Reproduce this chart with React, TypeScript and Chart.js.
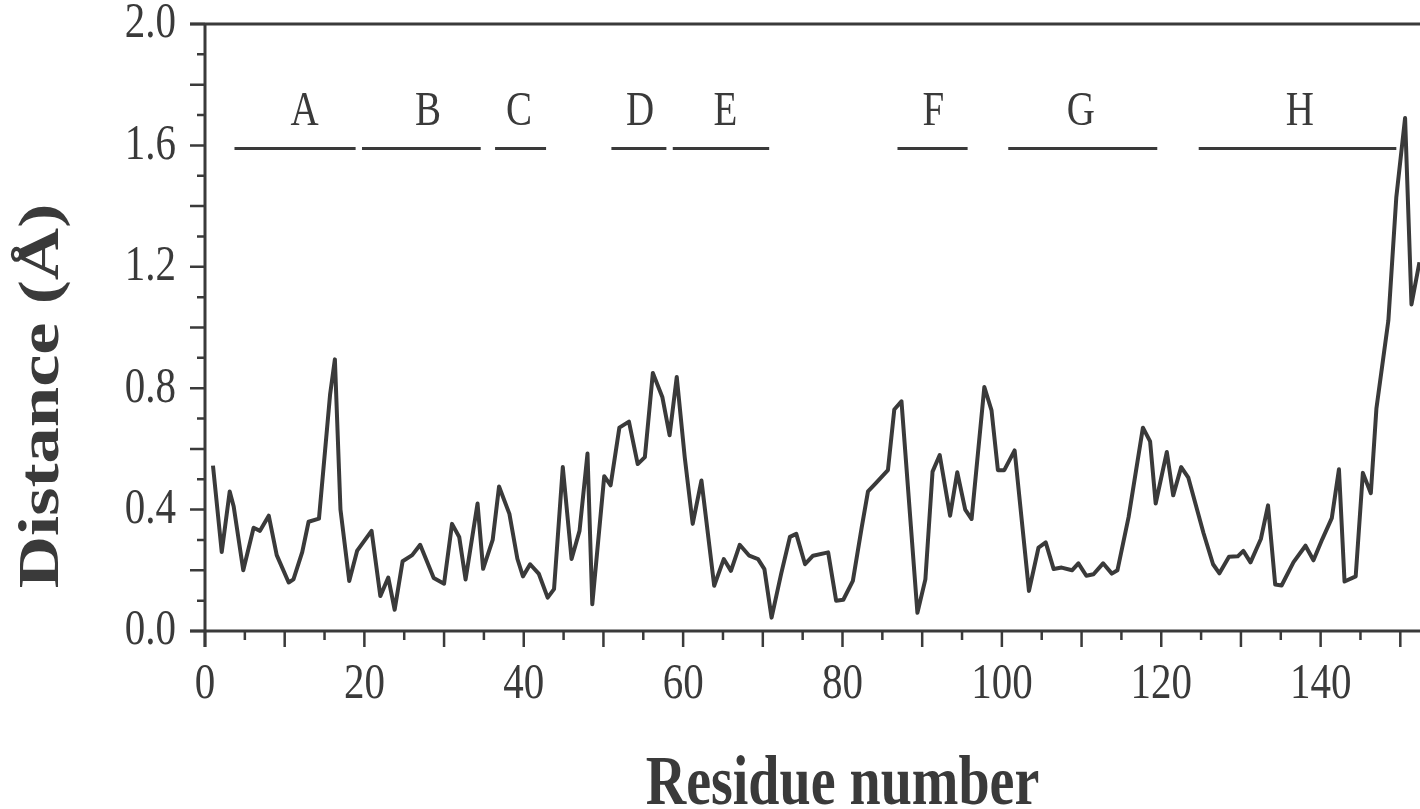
import React, { useEffect, useRef } from 'react';
import { Chart, registerables } from 'chart.js';

Chart.register(...registerables);

// Residue positions and distances
const residues = [
  1.0, 2.1, 3.1, 3.6, 4.8, 6.1, 6.9, 8.0, 9.0, 10.5, 11.1, 12.2, 13.0, 14.3, 15.7, 16.3, 17.0, 18.1, 19.1, 20.9,
  22.0, 23.0, 23.8, 24.8, 26.0, 27.0, 28.7, 30.0, 31.0, 31.9, 32.7, 34.2, 34.9, 36.1, 36.9, 38.2, 39.2, 39.9, 40.8, 41.9,
  43.0, 43.8, 44.9, 46.0, 47.0, 48.0, 48.6, 50.1, 50.9, 52.0, 53.2, 54.3, 55.2, 56.2, 57.4, 58.3, 59.2, 60.2, 61.2, 62.3,
  63.9, 65.1, 66.0, 67.1, 68.3, 69.4, 70.2, 71.1, 72.3, 73.4, 74.2, 75.3, 76.3, 78.2, 79.2, 80.1, 81.3, 82.4, 83.2, 84.1,
  85.7, 86.5, 87.4, 89.4, 90.4, 91.3, 92.2, 93.5, 94.4, 95.4, 96.2, 97.8, 98.7, 99.5, 100.3, 101.6, 103.4, 104.6, 105.5, 106.5,
  107.5, 108.8, 109.6, 110.6, 111.5, 112.7, 113.8, 114.5, 115.9, 117.7, 118.6, 119.3, 120.7, 121.5, 122.5, 123.4, 125.3, 126.5, 127.3, 128.5,
  129.6, 130.3, 131.2, 132.5, 133.4, 134.3, 135.1, 136.6, 138.1, 139.1, 140.2, 141.4, 142.3, 143.0, 144.4, 145.3, 146.3, 147.0, 148.5, 149.5,
  150.6, 151.4, 152.4,
];
const distances = [
  0.545, 0.26, 0.46, 0.41, 0.2, 0.34, 0.33, 0.38, 0.25, 0.16, 0.17, 0.26, 0.36, 0.37, 0.78, 0.895, 0.4, 0.165, 0.265, 0.33,
  0.115, 0.176, 0.07, 0.23, 0.25, 0.284, 0.175, 0.156, 0.353, 0.31, 0.17, 0.42, 0.205, 0.3, 0.476, 0.386, 0.238, 0.18, 0.22, 0.188,
  0.11, 0.138, 0.54, 0.237, 0.33, 0.585, 0.088, 0.51, 0.48, 0.67, 0.69, 0.55, 0.573, 0.85, 0.77, 0.645, 0.837, 0.573, 0.353, 0.496,
  0.149, 0.237, 0.198, 0.284, 0.248, 0.237, 0.204, 0.044, 0.188, 0.31, 0.32, 0.22, 0.248, 0.259, 0.1, 0.103, 0.165, 0.34, 0.46, 0.485,
  0.53, 0.73, 0.757, 0.06, 0.17, 0.525, 0.58, 0.38, 0.523, 0.4, 0.369, 0.804, 0.727, 0.53, 0.53, 0.595, 0.132, 0.275, 0.292, 0.204,
  0.209, 0.2, 0.223, 0.182, 0.187, 0.223, 0.189, 0.2, 0.375, 0.67, 0.625, 0.42, 0.59, 0.447, 0.54, 0.505, 0.323, 0.22, 0.19, 0.245,
  0.246, 0.264, 0.226, 0.303, 0.414, 0.153, 0.15, 0.227, 0.281, 0.233, 0.302, 0.372, 0.533, 0.163, 0.18, 0.521, 0.454, 0.733, 1.023, 1.43,
  1.69, 1.076, 1.215,
];

const xTickLabels = [0, 20, 40, 60, 80, 100, 120, 140, 160];
const yTickLabels = [0.0, 0.4, 0.8, 1.2, 1.6, 2.0];

// Secondary-structure segments (residue ranges) drawn above the curve
const segmentNames = ['A', 'B', 'C', 'D', 'E', 'F', 'G', 'H'];
const segmentStarts = [3.7, 19.7, 36.4, 51.0, 58.7, 86.9, 100.8, 124.7];
const segmentEnds = [18.9, 34.6, 42.8, 57.9, 70.8, 95.7, 119.5, 149.5];
const segmentLabelAt = [12.5, 28.0, 39.4, 54.6, 65.3, 91.4, 109.9, 137.4];
const SEGMENT_LEVEL = 1.59;
const LABEL_LEVEL = 1.71;

const X_MIN = 0;
const X_MAX = 160;
const Y_MIN = 0;
const Y_MAX = 2.0;

const INK = '#3a3a3a';
const SERIF = '"Liberation Serif", "DejaVu Serif", "Times New Roman", serif';
const STRETCH = 1.25;

function drawStretched(ctx: CanvasRenderingContext2D, text: string, x: number, y: number, font: string, align: CanvasTextAlign) {
  ctx.save();
  ctx.translate(x, y);
  ctx.scale(1, STRETCH);
  ctx.font = font;
  ctx.textAlign = align;
  ctx.textBaseline = 'middle';
  ctx.fillStyle = INK;
  ctx.fillText(text, 0, 0);
  ctx.restore();
}

const decorPlugin = {
  id: 'decor',
  afterDraw(chart: any) {
    const { ctx, chartArea: a } = chart;
    const xs = chart.scales.x;
    const ys = chart.scales.y;
    ctx.save();
    ctx.strokeStyle = INK;
    ctx.lineCap = 'butt';

    // frame / axes
    ctx.lineWidth = 3;
    ctx.beginPath();
    ctx.moveTo(a.left - 15, a.top);
    ctx.lineTo(a.right, a.top);
    ctx.moveTo(a.right, a.top);
    ctx.lineTo(a.right, a.bottom);
    ctx.moveTo(a.left - 15, a.bottom);
    ctx.lineTo(a.right, a.bottom);
    ctx.moveTo(a.left, a.top);
    ctx.lineTo(a.left, a.bottom + 16);
    ctx.stroke();

    // x ticks: every 5, long every 10
    ctx.lineWidth = 2.5;
    ctx.beginPath();
    for (let v = X_MIN; v <= X_MAX; v += 5) {
      const px = xs.getPixelForValue(v);
      const len = v % 10 === 0 ? 16 : 9;
      ctx.moveTo(px, a.bottom);
      ctx.lineTo(px, a.bottom + len);
    }
    // y ticks: every 0.1, long every 0.2
    for (let i = 0; i <= 20; i++) {
      const py = ys.getPixelForValue(i / 10);
      const len = i % 2 === 0 ? 15 : 8;
      ctx.moveTo(a.left, py);
      ctx.lineTo(a.left - len, py);
    }
    ctx.stroke();

    // tick labels
    const tickFont = `41px ${SERIF}`;
    xTickLabels.forEach((v) => {
      drawStretched(ctx, String(v), xs.getPixelForValue(v), a.bottom + 54, tickFont, 'center');
    });
    yTickLabels.forEach((v) => {
      drawStretched(ctx, v.toFixed(1), a.left - 29, ys.getPixelForValue(v), tickFont, 'right');
    });

    // segments
    ctx.lineWidth = 3;
    ctx.beginPath();
    segmentNames.forEach((_, i) => {
      const py = ys.getPixelForValue(SEGMENT_LEVEL);
      ctx.moveTo(xs.getPixelForValue(segmentStarts[i]), py);
      ctx.lineTo(xs.getPixelForValue(segmentEnds[i]), py);
    });
    ctx.stroke();
    segmentNames.forEach((name, i) => {
      drawStretched(ctx, name, xs.getPixelForValue(segmentLabelAt[i]), ys.getPixelForValue(LABEL_LEVEL), `39px ${SERIF}`, 'center');
    });

    // axis titles
    ctx.save();
    ctx.font = `bold 56px ${SERIF}`;
    ctx.textAlign = 'center';
    ctx.textBaseline = 'alphabetic';
    ctx.fillStyle = INK;
    ctx.translate((a.left + a.right) / 2, 804);
    ctx.scale(1, STRETCH);
    ctx.fillText('Residue number', 0, 0);
    ctx.restore();

    ctx.save();
    ctx.font = `bold 58px ${SERIF}`;
    ctx.textAlign = 'center';
    ctx.textBaseline = 'middle';
    ctx.fillStyle = INK;
    ctx.translate(43, 396);
    ctx.rotate(-Math.PI / 2);
    ctx.scale(STRETCH, 1);
    ctx.fillText('Distance (Å)', 0, 0);
    ctx.restore();

    ctx.restore();
  },
};

export default function App() {
  const canvasRef = useRef<HTMLCanvasElement | null>(null);

  useEffect(() => {
    const canvas = canvasRef.current;
    if (!canvas) return;
    const chart = new Chart(canvas, {
      type: 'line',
      data: {
        datasets: [
          {
            data: residues.map((r, i) => ({ x: r, y: distances[i] })),
            borderColor: INK,
            borderWidth: 4,
            borderJoinStyle: 'round',
            pointRadius: 0,
            tension: 0,
            fill: false,
          },
        ],
      },
      options: {
        animation: false,
        responsive: false,
        maintainAspectRatio: false,
        devicePixelRatio: 1,
        layout: { padding: { top: 24, right: 20, left: 0, bottom: 0 } },
        plugins: { legend: { display: false }, tooltip: { enabled: false } },
        scales: {
          x: {
            type: 'linear',
            min: X_MIN,
            max: X_MAX,
            grid: { display: false },
            border: { display: false },
            ticks: { display: false },
            afterFit: (s: any) => {
              s.height = 178;
              s.paddingLeft = 0;
              s.paddingRight = 0;
            },
          },
          y: {
            type: 'linear',
            min: Y_MIN,
            max: Y_MAX,
            grid: { display: false },
            border: { display: false },
            ticks: { display: false },
            afterFit: (s: any) => {
              s.width = 205;
              s.paddingTop = 0;
              s.paddingBottom = 0;
            },
          },
        },
      },
      plugins: [decorPlugin],
    } as any);
    return () => chart.destroy();
  }, []);

  return (
    <div style={{ position: 'fixed', left: 0, top: 0, width: 1420, height: 809, overflow: 'hidden', background: '#fff' }}>
      <canvas ref={canvasRef} width={1500} height={809} style={{ width: 1500, height: 809, display: 'block' }} />
    </div>
  );
}
